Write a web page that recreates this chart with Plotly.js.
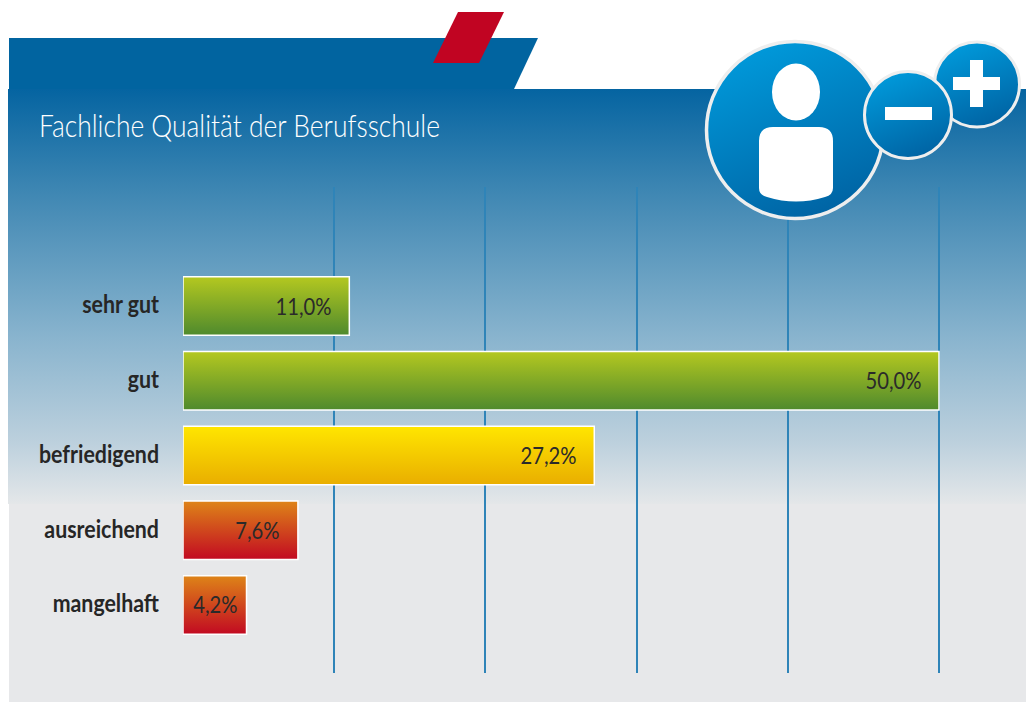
<!DOCTYPE html>
<html><head><meta charset="utf-8">
<script src="https://cdn.plot.ly/plotly-3.0.1.min.js"></script>
<style>html,body{margin:0;padding:0;background:#fff;overflow:hidden}#c{width:1026px;height:702px}</style>
</head><body><div id="c"></div>
<script>
const titleText = 'Fachliche Qualität der Berufsschule';
const categories = ['sehr gut', 'gut', 'befriedigend', 'ausreichend', 'mangelhaft'];
const values = [11.0, 50.0, 27.2, 7.6, 4.2];
const gridTicks = [10, 20, 30, 40, 50];
const barStyles = ['green', 'green', 'yellow', 'red', 'red'];
const labelInsets = [16, 16, 16, 16, 7];

const W = 1026, H = 702;
const M = {l: 183, r: 12, t: 187, b: 29};
const plotW = W - M.l - M.r, plotH = H - M.t - M.b;
const FONT = 'Lato, "Noto Sans", sans-serif';

const bgSvg = `<svg xmlns="http://www.w3.org/2000/svg" width="${W}" height="${H}" viewBox="0 0 ${W} ${H}">
<defs><linearGradient id="p" x1="0" y1="0" x2="0" y2="1">
<stop offset="0" stop-color="#0564a1"/><stop offset="0.25" stop-color="#3f87b3"/>
<stop offset="0.6" stop-color="#89b4ce"/><stop offset="0.85" stop-color="#bcd0dd"/><stop offset="1" stop-color="#e4e7e9"/></linearGradient></defs>
<rect x="9" y="500" width="${W-9}" height="${H-500}" fill="#e7e8ea"/>
<rect x="8" y="89" width="${W-8}" height="415" fill="url(#p)"/>
<polygon points="9,38 538,38 514,89 9,89" fill="#0164a0"/>
<polygon points="458,12 504,12 479,63 433,63" fill="#c10422"/>
</svg>`;

const iconSvg = `<svg xmlns="http://www.w3.org/2000/svg" width="${W}" height="${H}" viewBox="0 0 ${W} ${H}">
<defs><linearGradient id="b" x1="0.25" y1="0" x2="0.65" y2="1">
<stop offset="0" stop-color="#009bdc"/><stop offset="1" stop-color="#0063a3"/></linearGradient></defs>
<circle cx="795" cy="130" r="88.5" fill="url(#b)" stroke="#eeeeee" stroke-width="3.5"/>
<ellipse cx="796" cy="92" rx="24" ry="28.5" fill="#fff"/>
<path d="M773 127 H819 Q833 127 833 141 V188 Q833 195 825 197 Q796 206 767 197 Q759 195 759 188 V141 Q759 127 773 127 Z" fill="#fff"/>
<circle cx="977" cy="84.5" r="42.5" fill="url(#b)" stroke="#eeeeee" stroke-width="3"/>
<rect x="953" y="77" width="47" height="13" fill="#fff"/><rect x="970" y="60" width="13" height="47" fill="#fff"/>
<circle cx="908" cy="115" r="43.5" fill="url(#b)" stroke="#eeeeee" stroke-width="3"/>
<rect x="885" y="107" width="47" height="13" fill="#fff"/>
</svg>`;

function uri(s){ return 'data:image/svg+xml;charset=utf-8,' + encodeURIComponent(s); }
function fullImage(svg, layer){
  return {source: uri(svg), xref:'paper', yref:'paper', layer: layer, sizing:'stretch',
    x: -M.l/plotW, y: 1 + M.t/plotH, sizex: W/plotW, sizey: H/plotH, xanchor:'left', yanchor:'top'};
}

const trace = {
  type:'bar', orientation:'h', y: categories, x: values, width: 0.78,
  marker:{color: barStyles.map(s => ({green:'#84a826', yellow:'#f5d000', red:'#d24a1c'})[s]),
          line:{color:'#ffffff', width:1.5}},
  hoverinfo:'skip', showlegend:false
};

const layout = {
  width:W, height:H, margin:M, paper_bgcolor:'rgba(0,0,0,0)', plot_bgcolor:'rgba(0,0,0,0)',
  font:{family:FONT, color:'#2a2a2a'}, showlegend:false, bargap:0.22,
  title:{text:titleText, font:{family:FONT, size:31, weight:300, color:'#ffffff'}, xref:'container', yref:'container',
         x:39/W, xanchor:'left', y:1-126/H, yanchor:'middle', pad:{l:0,r:0,t:0,b:0}},
  xaxis:{range:[0, plotW/15.12], tickvals:gridTicks, showticklabels:false, ticks:'', showline:false, zeroline:false,
         showgrid:true, gridcolor:'#2f84b8', gridwidth:2, fixedrange:true},
  yaxis:{type:'category', categoryorder:'array', categoryarray:categories, range:[4.91,-1.592], ticks:'',
         ticklen:0, showline:false, showgrid:false, zeroline:false, fixedrange:true, ticklabelstandoff:23,
         tickfont:{family:FONT, size:24, color:'#262626', weight:700}},
  images:[fullImage(bgSvg,'below'), fullImage(iconSvg,'above')],
  annotations: values.map((v,i)=>({
    xref:'x', yref:'y', x:v, y:categories[i], text:v.toFixed(1).replace('.',',')+'%', showarrow:false,
    xanchor:'right', yanchor:'middle', xshift:-labelInsets[i], yshift:1, font:{family:FONT, size:24, color:'#2a2a2a'}
  }))
};

const GRADS = {
  green:['#b4c820','#4f8a2d'], yellow:['#ffe600','#e9ae00'], red:['#de8418','#c20a22']
};

// the original uses a condensed face: squeeze the real text to the reference width
function condense(els, refEl, refWidth, centred){
  const k = refWidth / refEl.getComputedTextLength();
  els.forEach(el=>{
    const w = el.getComputedTextLength();
    el.setAttribute('textLength', (w*k).toFixed(2));
    el.setAttribute('lengthAdjust','spacingAndGlyphs');
    if (centred) el.setAttribute('dx', ((1-k)*w/2).toFixed(2));
  });
}

Plotly.newPlot('c',[trace],layout,{displayModeBar:false,staticPlot:true}).then(gd=>{
  const svg = gd.querySelector('svg.main-svg');
  const NS='http://www.w3.org/2000/svg';
  let defs = svg.querySelector('defs');
  Object.keys(GRADS).forEach(k=>{
    const g=document.createElementNS(NS,'linearGradient');
    g.setAttribute('id','bar-'+k); g.setAttribute('x1','0'); g.setAttribute('y1','0'); g.setAttribute('x2','0'); g.setAttribute('y2','1');
    GRADS[k].forEach((c,i)=>{const s=document.createElementNS(NS,'stop'); s.setAttribute('offset',String(i)); s.setAttribute('stop-color',c); g.appendChild(s);});
    defs.appendChild(g);
  });
  gd.querySelectorAll('.barlayer .point path').forEach((p,i)=>{ p.style.fill='url(#bar-'+barStyles[i]+')'; });

  const title = gd.querySelector('.gtitle');
  condense([title], title, 401, false);
  const ticks = [...gd.querySelectorAll('.ytick text')];
  const refTick = ticks.find(t=>t.textContent==='befriedigend');
  condense(ticks, refTick, 120, false);
  ticks.forEach(t=>t.setAttribute('dy','-1'));
  const notes = [...gd.querySelectorAll('.annotation-text')];
  condense(notes, notes[1], 56, true);
});
</script></body></html>
